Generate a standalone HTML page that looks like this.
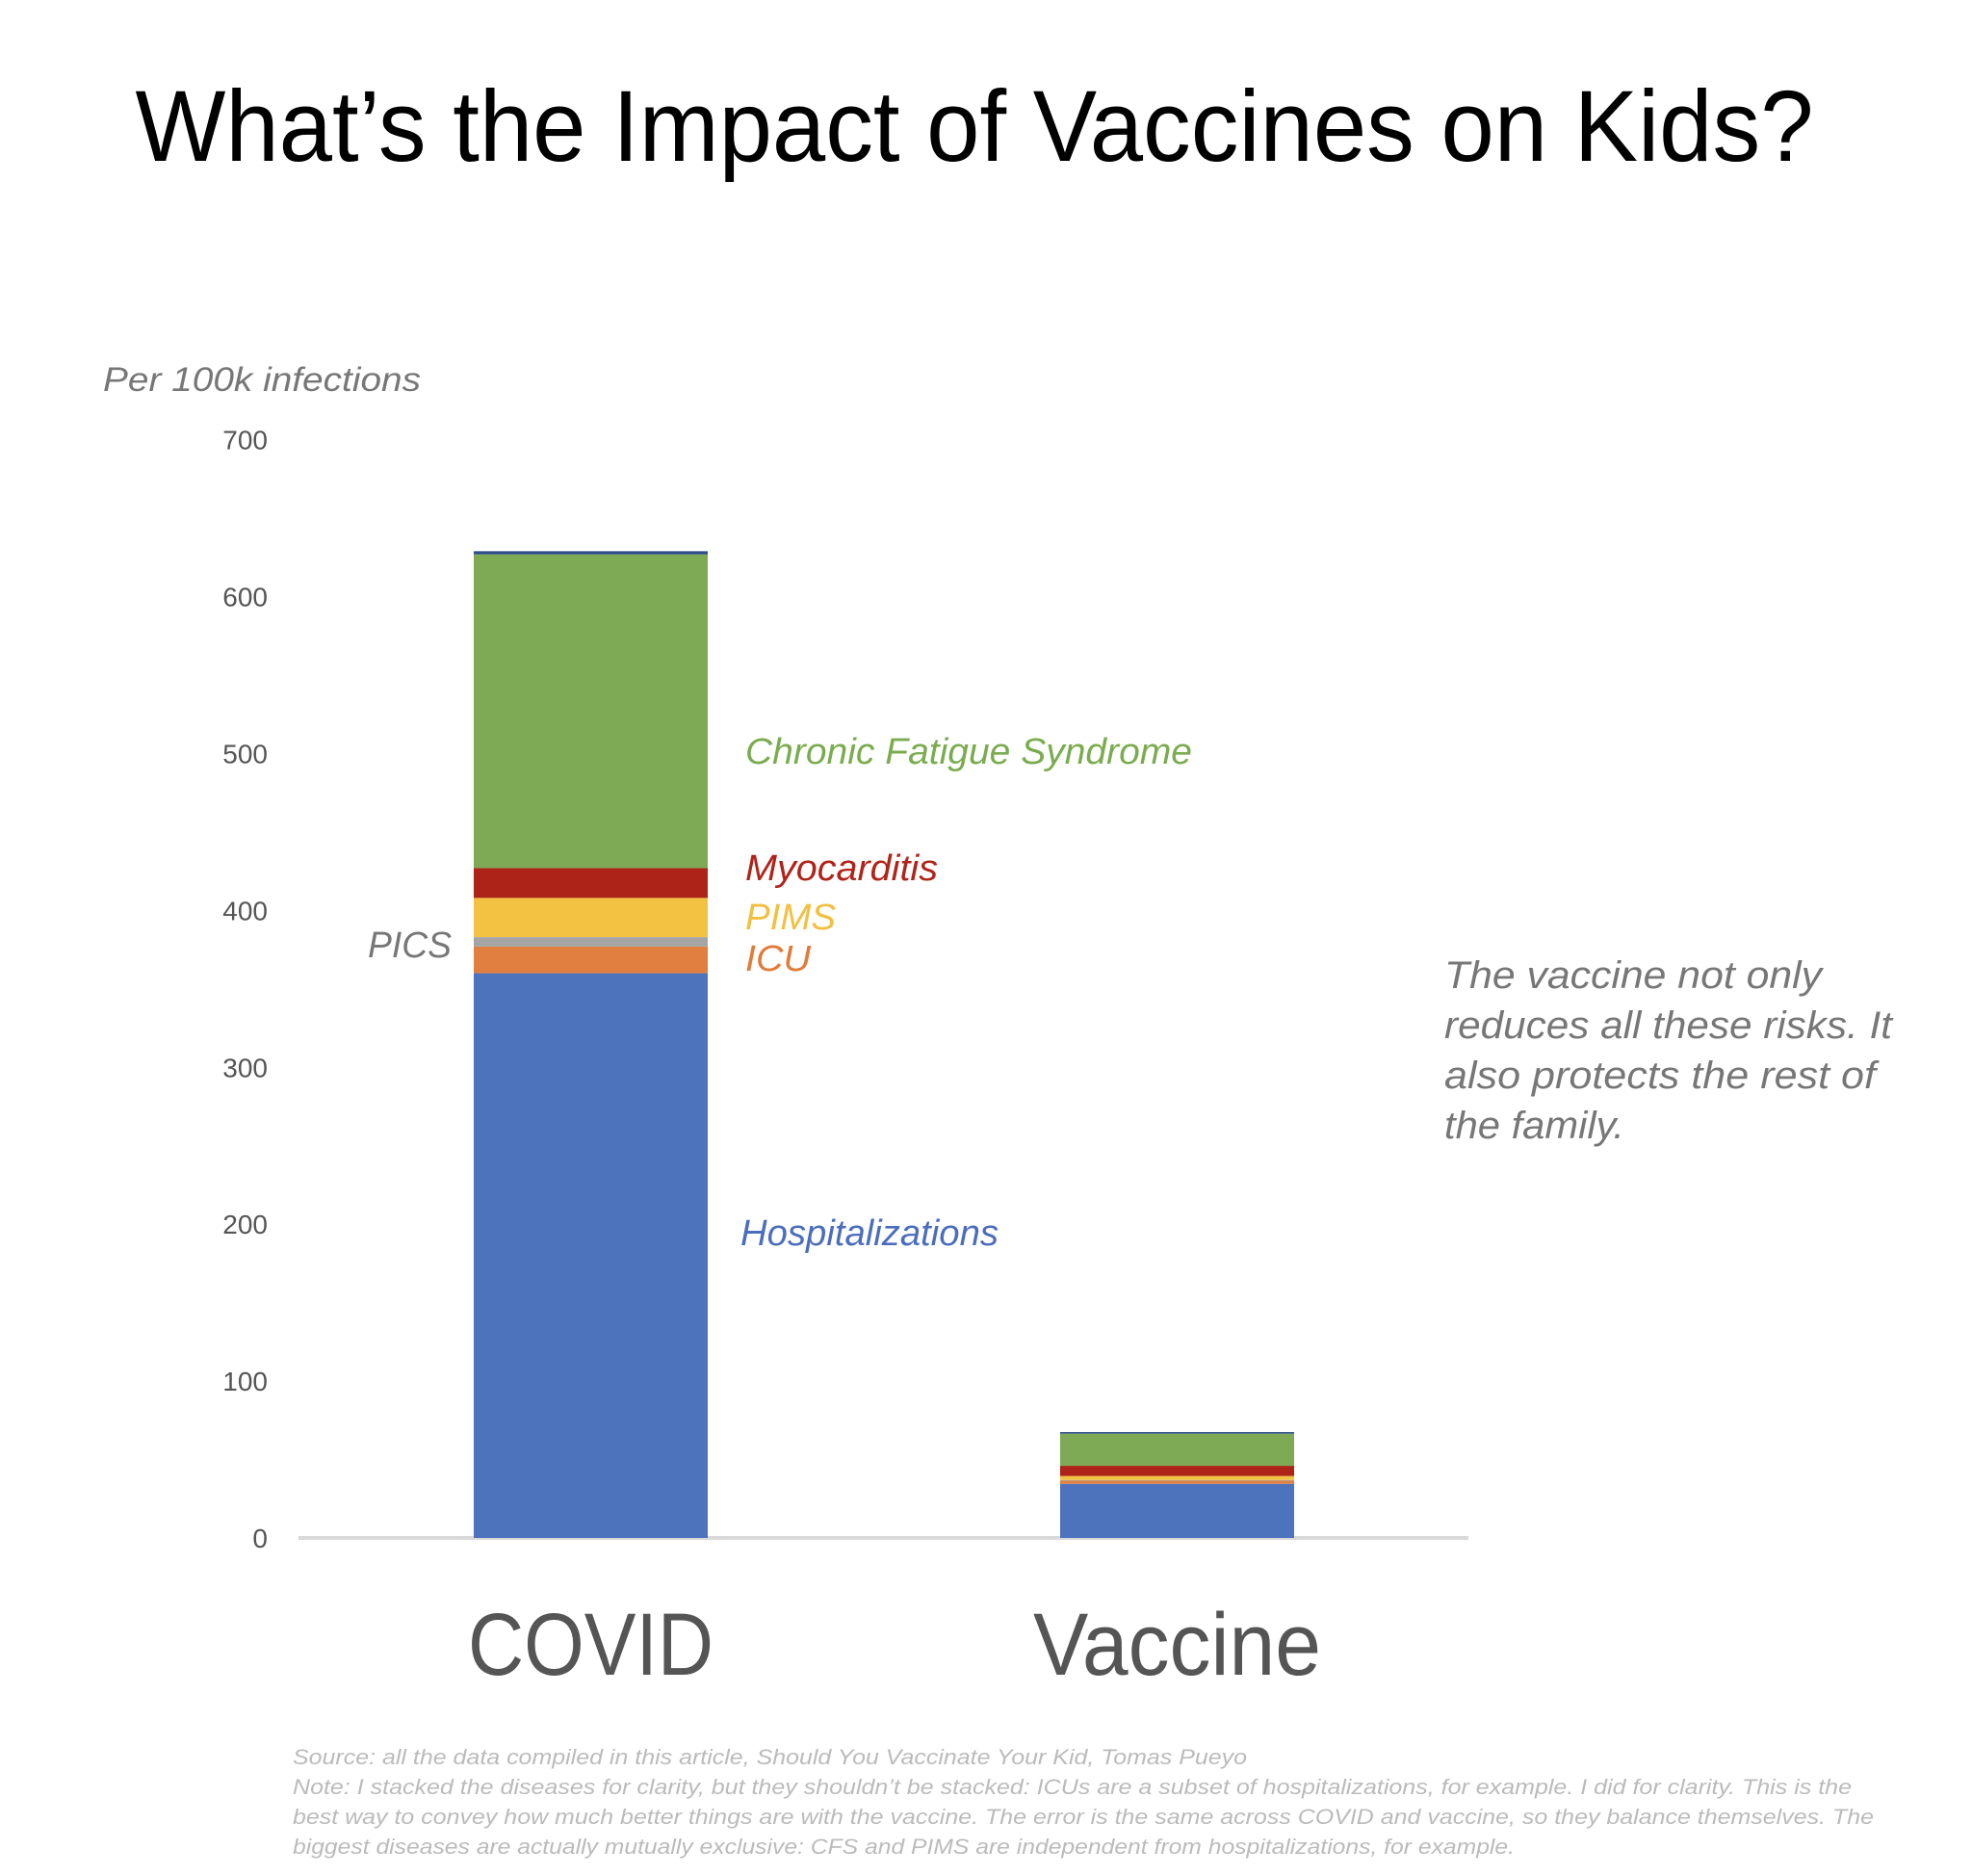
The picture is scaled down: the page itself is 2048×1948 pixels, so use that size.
<!DOCTYPE html>
<html><head><meta charset="utf-8"><style>
html,body{margin:0;padding:0;background:#fff;}
svg{display:block;font-family:"Liberation Sans",sans-serif;}
</style></head><body>
<svg id="chart" width="2048" height="1948" viewBox="0 0 2048 1948">
<rect width="2048" height="1948" fill="#fff"/>
<text x="1012" y="167" text-anchor="middle" font-size="105" fill="#000" textLength="1743" lengthAdjust="spacingAndGlyphs">What’s the Impact of Vaccines on Kids?</text>
<text x="107" y="406" font-size="35" font-style="italic" fill="#777" textLength="330" lengthAdjust="spacingAndGlyphs">Per 100k infections</text>
<g id="ticks"></g>
<line x1="310" y1="1597" x2="1525" y2="1597" stroke="#d9d9d9" stroke-width="4"/>
<g id="bars"></g>
<text x="774" y="793" font-size="38" font-style="italic" fill="#7aac4f" textLength="464" lengthAdjust="spacingAndGlyphs">Chronic Fatigue Syndrome</text>
<text x="774" y="914" font-size="38" font-style="italic" fill="#b0231a" textLength="200" lengthAdjust="spacingAndGlyphs">Myocarditis</text>
<text x="774" y="965" font-size="38" font-style="italic" fill="#f2c040" textLength="94" lengthAdjust="spacingAndGlyphs">PIMS</text>
<text x="774" y="1008" font-size="38" font-style="italic" fill="#e07b39" textLength="68" lengthAdjust="spacingAndGlyphs">ICU</text>
<text x="769" y="1293" font-size="38" font-style="italic" fill="#4a6dbd" textLength="268" lengthAdjust="spacingAndGlyphs">Hospitalizations</text>
<text x="469" y="994" text-anchor="end" font-size="38" font-style="italic" fill="#777" textLength="87" lengthAdjust="spacingAndGlyphs">PICS</text>
<g font-size="40" font-style="italic" fill="#777">
<text x="1500" y="1026" textLength="392" lengthAdjust="spacingAndGlyphs">The vaccine not only</text>
<text x="1500" y="1078" textLength="465" lengthAdjust="spacingAndGlyphs">reduces all these risks. It</text>
<text x="1500" y="1130" textLength="448" lengthAdjust="spacingAndGlyphs">also protects the rest of</text>
<text x="1500" y="1182" textLength="187" lengthAdjust="spacingAndGlyphs">the family.</text>
</g>
<g id="cats"></g>
<g font-size="22" font-style="italic" fill="#bbb">
<text x="304" y="1832" textLength="991" lengthAdjust="spacingAndGlyphs">Source: all the data compiled in this article, Should You Vaccinate Your Kid, Tomas Pueyo</text>
<text x="304" y="1863" textLength="1619" lengthAdjust="spacingAndGlyphs">Note: I stacked the diseases for clarity, but they shouldn’t be stacked: ICUs are a subset of hospitalizations, for example. I did for clarity. This is the</text>
<text x="304" y="1894" textLength="1642" lengthAdjust="spacingAndGlyphs">best way to convey how much better things are with the vaccine. The error is the same across COVID and vaccine, so they balance themselves. The</text>
<text x="304" y="1925" textLength="1269" lengthAdjust="spacingAndGlyphs">biggest diseases are actually mutually exclusive: CFS and PIMS are independent from hospitalizations, for example.</text>
</g>
</svg>
<script>
const categories = ["COVID", "Vaccine"];
const seriesNames = ["Hospitalizations", "ICU", "PICS", "PIMS", "Myocarditis", "CFS", "Deaths"];
const covidValues = [360, 17, 6, 25, 19, 200, 2];
const vaccineValues = [34.5, 2, 0.5, 2.5, 6.5, 20.5, 1];
const tickValues = [0, 100, 200, 300, 400, 500, 600, 700];
const tickLabels = ["0", "100", "200", "300", "400", "500", "600", "700"];

const NS = "http://www.w3.org/2000/svg";
const colors = ["#4e73bd", "#e07f40", "#a5a5a5", "#f3c242", "#ad2318", "#7eaa56", "#2f4d8a"];
const y0 = 1597, pxPerUnit = 1.629;
function yScale(v) { return y0 - v * pxPerUnit; }
const barX = [492, 1101], barW = 243;
function xScale(i) { return barX[i]; }
const catW = [255, 299];

const ticksG = document.getElementById('ticks');
tickValues.forEach((v, i) => {
  const t = document.createElementNS(NS, 'text');
  t.setAttribute('x', 278);
  t.setAttribute('y', yScale(v) + 10);
  t.setAttribute('text-anchor', 'end');
  t.setAttribute('font-size', '28');
  t.setAttribute('fill', '#555');
  t.textContent = tickLabels[i];
  
  
  ticksG.appendChild(t);
});

const barsG = document.getElementById('bars');
[covidValues, vaccineValues].forEach((vals, ci) => {
  let cum = 0;
  vals.forEach((v, si) => {
    const r = document.createElementNS(NS, 'rect');
    r.setAttribute('x', xScale(ci));
    r.setAttribute('width', barW);
    r.setAttribute('y', yScale(cum + v));
    r.setAttribute('height', Math.max(v * pxPerUnit, 0.5));
    r.setAttribute('fill', colors[si]);
    
    
    barsG.appendChild(r);
    cum += v;
  });
});

const catsG = document.getElementById('cats');
categories.forEach((c, i) => {
  const t = document.createElementNS(NS, 'text');
  t.setAttribute('x', xScale(i) + barW / 2);
  t.setAttribute('y', 1739);
  t.setAttribute('text-anchor', 'middle');
  t.setAttribute('font-size', '92');
  t.setAttribute('fill', '#555');
  t.setAttribute('textLength', catW[i]);
  t.setAttribute('lengthAdjust', 'spacingAndGlyphs');
  t.textContent = c;
  
  
  catsG.appendChild(t);
});
</script>
</body></html>
